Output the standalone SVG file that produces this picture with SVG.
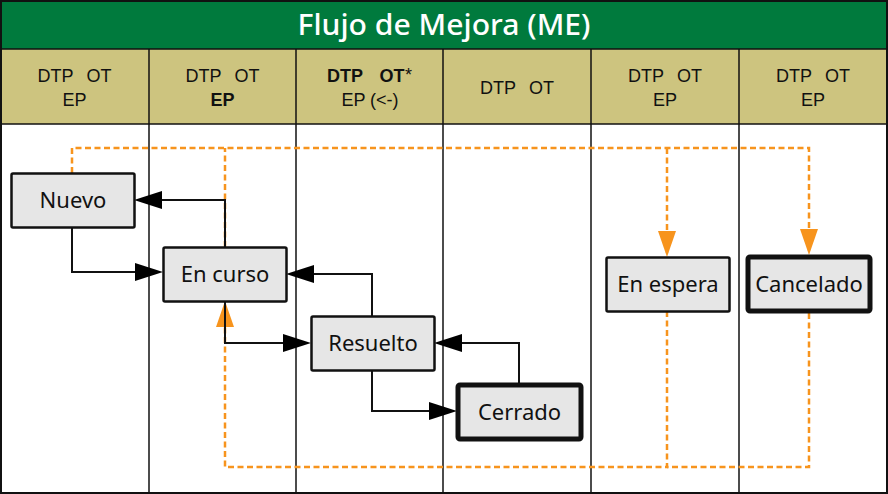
<svg xmlns="http://www.w3.org/2000/svg" width="888" height="494" viewBox="0 0 888 494">
<style>
.hdr{font-family:"Liberation Sans",Arial,sans-serif;font-size:18px;fill:#111;text-anchor:middle}
.b{font-weight:bold}
.node rect{fill:#e6e6e6;stroke:#111;stroke-width:2.5}
.node.thick rect{stroke-width:5}
.node text{font-family:"Noto Sans","Open Sans",sans-serif;font-size:22px;fill:#111;text-anchor:middle}
.blk{fill:none;stroke:#111;stroke-width:2}
.org{fill:none;stroke:#f7941d;stroke-width:2.5;stroke-dasharray:6 3.5}
.grid{stroke:#111;stroke-width:1.5}
</style>
<defs>
<marker id="ab" markerWidth="28" markerHeight="18" refX="24" refY="9" orient="auto" markerUnits="userSpaceOnUse"><path d="M0,0 L28,9 L0,18 z" fill="#000"/></marker>
<marker id="ao" markerWidth="26" markerHeight="18" refX="22" refY="9" orient="auto" markerUnits="userSpaceOnUse"><path d="M0,0 L26,9 L0,18 z" fill="#f7941d"/></marker>
</defs>
<rect x="0" y="0" width="888" height="494" fill="#fff"/>
<rect x="1" y="1" width="886" height="48" fill="#007a3d"/>
<rect x="1" y="49" width="886" height="75" fill="#cdc47f"/>
<g id="grid">
<line class="grid" x1="1" y1="49" x2="887" y2="49"/>
<line class="grid" x1="1" y1="124" x2="887" y2="124"/>
<line class="grid" x1="149" y1="49" x2="149" y2="493"/>
<line class="grid" x1="296" y1="49" x2="296" y2="493"/>
<line class="grid" x1="443" y1="49" x2="443" y2="493"/>
<line class="grid" x1="591" y1="49" x2="591" y2="493"/>
<line class="grid" x1="739" y1="49" x2="739" y2="493"/>
<rect x="1" y="1" width="886" height="492" fill="none" stroke="#111" stroke-width="2"/>
</g>
<text x="444" y="35" font-family="Noto Sans,Open Sans,sans-serif" font-size="28" font-weight="500" fill="#fff" text-anchor="middle" textLength="293" lengthAdjust="spacingAndGlyphs">Flujo de Mejora (ME)</text>
<g id="headers">
<text class="hdr" y="82"><tspan x="55.5">DTP</tspan><tspan x="99">OT</tspan></text>
<text class="hdr" x="74.5" y="106">EP</text>
<text class="hdr" y="82"><tspan x="203.5">DTP</tspan><tspan x="247">OT</tspan></text>
<text class="hdr b" x="222.5" y="106">EP</text>
<text class="hdr b" y="82"><tspan x="345">DTP</tspan><tspan x="392">OT</tspan></text>
<text class="hdr" x="408.5" y="81" font-size="14">*</text>
<text class="hdr" x="370" y="106">EP (&lt;-)</text>
<text class="hdr" y="94"><tspan x="498">DTP</tspan><tspan x="541.5">OT</tspan></text>
<text class="hdr" y="82"><tspan x="646">DTP</tspan><tspan x="689.5">OT</tspan></text>
<text class="hdr" x="665" y="106">EP</text>
<text class="hdr" y="82"><tspan x="794">DTP</tspan><tspan x="837.5">OT</tspan></text>
<text class="hdr" x="813" y="106">EP</text>
</g>
<g id="connectors">
<path class="org" d="M72,173 V148 H809 V251" marker-end="url(#ao)"/>
<path class="org" d="M225,247 V148"/>
<path class="org" d="M667,148 V253" marker-end="url(#ao)"/>
<path class="org" d="M809,313 V467 H667"/>
<path class="org" d="M667,311 V467 H225 V305" marker-end="url(#ao)"/>
<path class="blk" d="M72,227 V272 H159" marker-end="url(#ab)"/>
<path class="blk" d="M225,247 V200 H138" marker-end="url(#ab)"/>
<path class="blk" d="M225,301 V343 H307" marker-end="url(#ab)"/>
<path class="blk" d="M372,316 V274 H290" marker-end="url(#ab)"/>
<path class="blk" d="M372,370 V411 H453" marker-end="url(#ab)"/>
<path class="blk" d="M519,384 V343 H438" marker-end="url(#ab)"/>
</g>
<g id="nuevo" class="node"><rect x="11.5" y="173.5" width="123" height="54" rx="1.5"/><text x="73" y="208">Nuevo</text></g>
<g id="en-curso" class="node"><rect x="163.5" y="247.5" width="123" height="54" rx="1.5"/><text x="225" y="282">En curso</text></g>
<g id="resuelto" class="node"><rect x="311.5" y="316.5" width="123" height="54" rx="1.5"/><text x="373" y="351">Resuelto</text></g>
<g id="cerrado" class="node thick"><rect x="458" y="385" width="123" height="54" rx="2"/><text x="519.5" y="420">Cerrado</text></g>
<g id="en-espera" class="node"><rect x="606.5" y="257.5" width="123" height="54" rx="1.5"/><text x="668" y="292">En espera</text></g>
<g id="cancelado" class="node thick"><rect x="748" y="257" width="122" height="54" rx="2"/><text x="809" y="292">Cancelado</text></g>
</svg>
